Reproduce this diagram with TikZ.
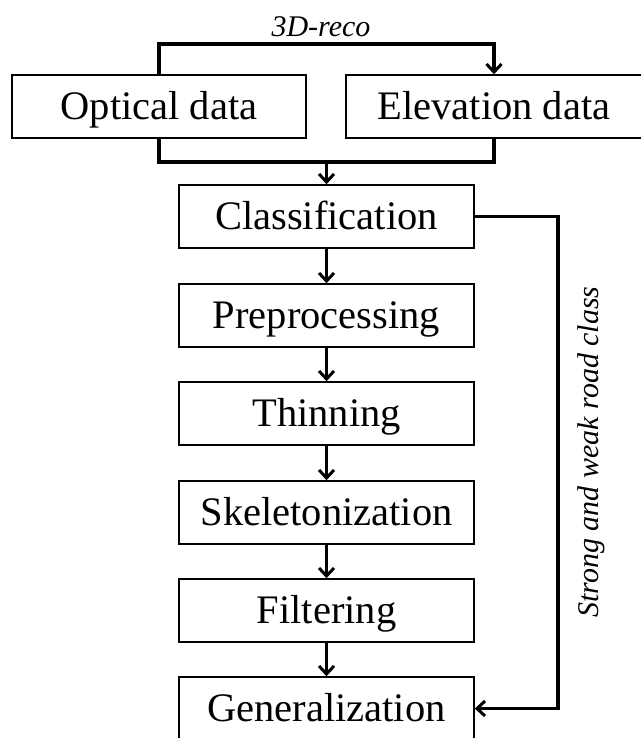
\documentclass[tikz,border=0pt]{standalone}
\usepackage{fontspec}
\setmainfont{Liberation Serif}[ItalicFont={Liberation Serif Italic}]
\usetikzlibrary{arrows.meta}
\begin{document}
\begin{tikzpicture}[x=1pt,y=-1pt,
  box/.style={draw=black,line width=1.6pt,minimum height=63pt,inner sep=0pt,text height=26pt,text depth=0pt,font=\fontsize{40.5}{48}\selectfont},
  colbox/.style={box,minimum width=295pt},
  conn/.style={line width=3.4pt},
  arr/.style={conn,-{Straight Barb[length=8pt,width=15pt,line width=3pt]}},
  lbl/.style={font=\fontsize{30}{34}\selectfont\itshape,inner sep=0pt}]
\useasboundingbox (0,0) rectangle (640,738);
\node[box,minimum width=294pt] (opt) at (159,106.5) {Optical data};
\node[box,minimum width=296pt] (elev) at (494,106.5) {Elevation data};
\node[colbox] (cls) at (326.5,216.5) {Classification};
\node[colbox] (pre) at (326.5,315.5) {Preprocessing};
\node[colbox] (thin) at (326.5,413.5) {Thinning};
\node[colbox] (skel) at (326.5,512.5) {Skeletonization};
\node[colbox] (filt) at (326.5,610.5) {Filtering};
\node[colbox] (gen) at (326.5,708.5) {Generalization};
\coordinate (topy) at (0,44);
\coordinate (mergey) at (326.5,162);
\draw[arr] (opt.north) |- (topy -| elev.north) -- (elev.north);
\node[lbl,anchor=base] (reco) at (321,37) {3D-reco};
\draw[conn] (opt.south) |- (mergey -| elev.south) -- (elev.south);
\draw[arr] (mergey) -- (cls.north);
\draw[arr] (cls) -- (pre);
\draw[arr] (pre) -- (thin);
\draw[arr] (thin) -- (skel);
\draw[arr] (skel) -- (filt);
\draw[arr] (filt) -- (gen);
\coordinate (rx) at (558,0);
\draw[arr] (cls.east) -- (cls.east -| rx) -- (gen.east -| rx) -- (gen.east);
\node[lbl,rotate=90] (road) at (591,452) {Strong and weak road class};
\end{tikzpicture}
\end{document}
